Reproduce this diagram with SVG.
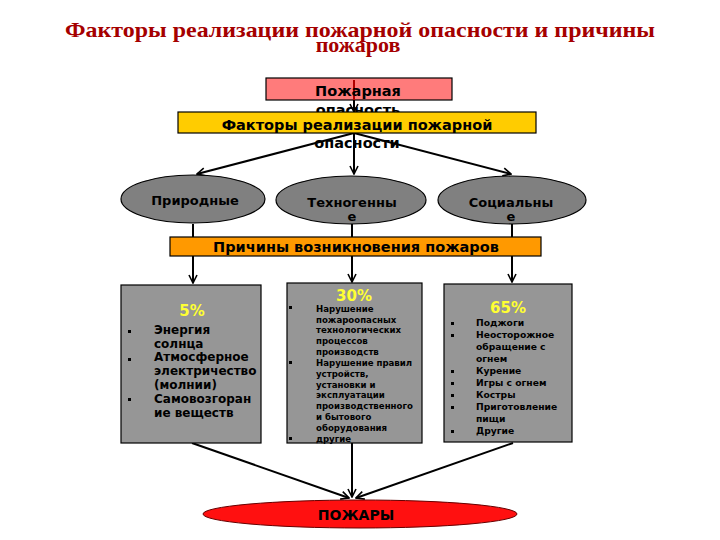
<svg xmlns="http://www.w3.org/2000/svg" width="720" height="540" viewBox="0 0 720 540">
<style>
.t{font-family:"DejaVu Sans",sans-serif;font-weight:bold;fill:#000}
.h{font-size:14.5px;text-anchor:middle}
.e{font-size:13px;text-anchor:middle}
.p{font-family:"DejaVu Sans",sans-serif;font-weight:bold;fill:#ffff33;text-anchor:middle;font-size:15px}
.s12{font-size:12px}
.s9{font-size:8.6px}
.s95{font-size:9.2px}
.ln{stroke:#000;stroke-width:2;fill:none}
.box{stroke:#000;stroke-width:1.2}
.b{fill:#000}
</style>
<defs>
<marker id="ar" viewBox="0 0 10 10" refX="9" refY="5" markerWidth="10" markerHeight="10" orient="auto" markerUnits="userSpaceOnUse">
<path d="M1,1 L9,5 L1,9" fill="none" stroke="#000" stroke-width="1.6"/>
</marker>
</defs>
<rect width="720" height="540" fill="#fff"/>
<g id="title">
<text x="360" y="37" font-family="Liberation Serif,serif" font-weight="bold" font-size="22" fill="#a50000" text-anchor="middle" textLength="590" lengthAdjust="spacingAndGlyphs">Факторы реализации пожарной опасности и причины</text>
<text x="358" y="52" font-family="Liberation Serif,serif" font-weight="bold" font-size="22" fill="#a50000" text-anchor="middle">пожаров</text>
</g>
<g id="connectors">
<line x1="354" y1="133" x2="197" y2="174" class="ln" marker-end="url(#ar)"/>
<line x1="354" y1="133" x2="354" y2="174" class="ln" marker-end="url(#ar)"/>
<line x1="354" y1="133" x2="511" y2="174" class="ln" marker-end="url(#ar)"/>
<line x1="193" y1="224" x2="193" y2="283" class="ln" marker-end="url(#ar)"/>
<line x1="352" y1="224" x2="352" y2="282" class="ln" marker-end="url(#ar)"/>
<line x1="512" y1="224" x2="512" y2="282" class="ln" marker-end="url(#ar)"/>
<line x1="192" y1="443" x2="349" y2="498" class="ln" marker-end="url(#ar)"/>
<line x1="352" y1="443" x2="352" y2="497" class="ln" marker-end="url(#ar)"/>
<line x1="513" y1="443" x2="356" y2="498" class="ln" marker-end="url(#ar)"/>
</g>
<g id="n-danger">
<rect x="266" y="78" width="186" height="22" fill="#ff7b7b" class="box"/>
<line x1="354" y1="80" x2="354" y2="100" stroke="#b00000" stroke-width="2"/>
<line x1="354" y1="100" x2="354" y2="112" class="ln" marker-end="url(#ar)"/>
<text x="358" y="96" class="t h">Пожарная</text>
<text x="358" y="115" class="t h">опасность</text>
</g>
<g id="n-factors">
<rect x="178" y="112" width="358" height="21" fill="#ffcc00" class="box"/>
<text x="357" y="130" class="t h">Факторы реализации пожарной</text>
<text x="357" y="148" class="t h">опасности</text>
</g>
<g id="n-natural">
<ellipse cx="193" cy="199" rx="72" ry="24" fill="#808080" class="box"/>
<text x="195" y="205" class="t e">Природные</text>
</g>
<g id="n-tech">
<ellipse cx="351" cy="200" rx="75" ry="24" fill="#808080" class="box"/>
<text x="352" y="207" class="t e">Техногенны</text>
<text x="352" y="221" class="t e">е</text>
</g>
<g id="n-social">
<ellipse cx="512" cy="200" rx="74" ry="24" fill="#808080" class="box"/>
<text x="511" y="207" class="t e">Социальны</text>
<text x="511" y="221" class="t e">е</text>
</g>
<g id="n-causes">
<rect x="170" y="237" width="371" height="19" fill="#ff9900" class="box"/>
<text x="356" y="252" class="t h">Причины возникновения пожаров</text>
</g>
<g id="n-5">
<rect x="121" y="285" width="140" height="158" fill="#969696" class="box"/>
<text x="192" y="316" class="p" font-size="16">5%</text>
<rect x="128" y="330" width="3" height="3" class="b"/>
<rect x="128" y="358" width="3" height="3" class="b"/>
<rect x="128" y="398" width="3" height="3" class="b"/>
<g class="t s12">
<text x="154" y="334">Энергия</text>
<text x="154" y="348">солнца</text>
<text x="154" y="361">Атмосферное</text>
<text x="154" y="375">электричество</text>
<text x="154" y="389">(молнии)</text>
<text x="154" y="403">Самовозгоран</text>
<text x="154" y="417">ие веществ</text>
</g>
</g>
<g id="n-30">
<rect x="287" y="283" width="135" height="160" fill="#969696" class="box"/>
<text x="354" y="301" class="p">30%</text>
<rect x="289" y="306" width="3" height="3" class="b"/>
<rect x="289" y="361" width="3" height="3" class="b"/>
<rect x="289" y="437" width="3" height="3" class="b"/>
<g class="t s9">
<text x="316" y="312">Нарушение</text>
<text x="316" y="323">пожароопасных</text>
<text x="316" y="333">технологических</text>
<text x="316" y="344">процессов</text>
<text x="316" y="355">производств</text>
<text x="316" y="366">Нарушение правил</text>
<text x="316" y="377">устройств,</text>
<text x="316" y="388">установки и</text>
<text x="316" y="398">эксплуатации</text>
<text x="316" y="409">производственного</text>
<text x="316" y="420">и бытового</text>
<text x="316" y="431">оборудования</text>
<text x="316" y="442">другие</text>
</g>
</g>
<g id="n-65">
<rect x="444" y="284" width="128" height="158" fill="#969696" class="box"/>
<text x="508" y="313" class="p" font-size="16">65%</text>
<rect x="451" y="322" width="3" height="3" class="b"/>
<rect x="451" y="334" width="3" height="3" class="b"/>
<rect x="451" y="370" width="3" height="3" class="b"/>
<rect x="451" y="382" width="3" height="3" class="b"/>
<rect x="451" y="394" width="3" height="3" class="b"/>
<rect x="451" y="406" width="3" height="3" class="b"/>
<rect x="451" y="430" width="3" height="3" class="b"/>
<g class="t s95">
<text x="476" y="326">Поджоги</text>
<text x="476" y="338">Неосторожное</text>
<text x="476" y="350">обращение с</text>
<text x="476" y="362">огнем</text>
<text x="476" y="374">Курение</text>
<text x="476" y="386">Игры с огнем</text>
<text x="476" y="398">Костры</text>
<text x="476" y="410">Приготовление</text>
<text x="476" y="422">пищи</text>
<text x="476" y="434">Другие</text>
</g>
</g>
<g id="n-fires">
<ellipse cx="360" cy="514" rx="157" ry="14" fill="#ff1010" stroke="#600" stroke-width="1"/>
<text x="356" y="520" class="t" font-size="14" text-anchor="middle">ПОЖАРЫ</text>
</g>
</svg>
